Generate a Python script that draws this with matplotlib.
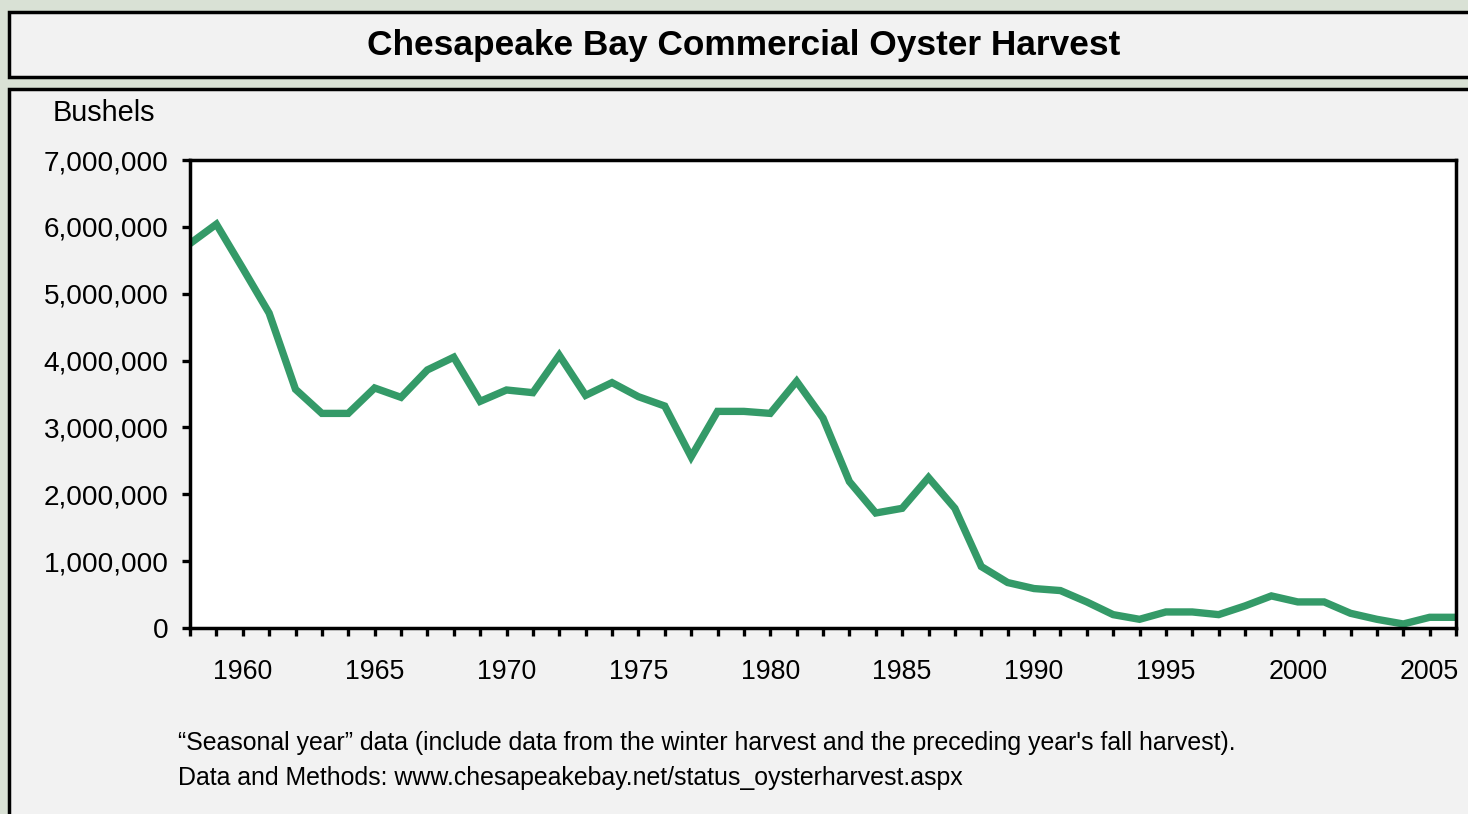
import numpy as np
import matplotlib
matplotlib.use("Agg")
import matplotlib.pyplot as plt
from matplotlib.patches import Rectangle
from matplotlib.ticker import FuncFormatter, MultipleLocator

# harvest in bushels
years = list(range(1958, 2007))
bushels = [5750000, 6040000, 5380000, 4710000, 3570000, 3210000, 3210000,
           3590000, 3450000, 3860000, 4050000, 3390000, 3560000, 3520000,
           4080000, 3480000, 3670000, 3460000, 3320000, 2560000, 3240000,
           3240000, 3210000, 3690000, 3140000, 2190000, 1720000, 1790000,
           2250000, 1790000, 920000, 680000, 590000, 560000, 390000,
           200000, 130000, 240000, 240000, 200000, 330000, 480000,
           390000, 390000, 220000, 130000, 60000, 160000, 160000]
year_labels = [1960, 1965, 1970, 1975, 1980, 1985, 1990, 1995, 2000, 2005]

title = "Chesapeake Bay Commercial Oyster Harvest"
y_label = "Bushels"
note1 = "\u201cSeasonal year\u201d data (include data from the winter harvest and the preceding year's fall harvest)."
note2 = "Data and Methods: www.chesapeakebay.net/status_oysterharvest.aspx"

W, H = 1468, 814
plt.rcParams['font.family'] = ['Liberation Sans', 'DejaVu Sans']

fig = plt.figure(figsize=(W / 100, H / 100), dpi=100)
fig.patch.set_facecolor('#d9e1d5')


def fx(px):
    return px / W


def fy(py):
    return 1 - py / H


# title box and main panel (kept behind the axes)
fig.patches.append(Rectangle((fx(9), fy(77)), fx(1480 - 9), (77 - 12) / H,
                             transform=fig.transFigure, facecolor='#f2f2f2',
                             edgecolor='black', linewidth=2.5, zorder=-5))
fig.patches.append(Rectangle((fx(9), fy(840)), fx(1480 - 9), (840 - 89) / H,
                             transform=fig.transFigure, facecolor='#f2f2f2',
                             edgecolor='black', linewidth=2.5, zorder=-5))

fig.text(fx(744), fy(46), title, ha='center', va='center',
         fontsize=25.4, fontweight='bold')
fig.text(fx(53), fy(113), y_label, ha='left', va='center', fontsize=20.8)
fig.text(fx(178), fy(743), note1, ha='left', va='center', fontsize=17.9)
fig.text(fx(178), fy(778), note2, ha='left', va='center', fontsize=17.9)

ax = fig.add_axes([fx(190), fy(628), fx(1456 - 190), (628 - 160) / H])
ax.set_zorder(5)
ax.set_facecolor('white')
ax.plot(years, bushels, color='#349a68', linewidth=5.3, solid_joinstyle='miter')

ax.set_xlim(1958, 2006)
ax.set_ylim(0, 7000000)
ax.xaxis.set_major_locator(MultipleLocator(1))
ax.yaxis.set_major_locator(MultipleLocator(1000000))
ax.xaxis.set_major_formatter(FuncFormatter(
    lambda v, p: str(int(round(v))) if int(round(v)) in year_labels else ''))
ax.yaxis.set_major_formatter(FuncFormatter(lambda v, p: f"{int(v):,}"))

for s in ax.spines.values():
    s.set_linewidth(2.5)
ax.tick_params(axis='both', direction='out', width=2.4, color='black')
ax.tick_params(axis='x', length=6, pad=16, labelsize=19.3)
ax.tick_params(axis='y', length=5.5, pad=10, labelsize=20.2)

fig.savefig('out.png', dpi=100, facecolor=fig.get_facecolor())
